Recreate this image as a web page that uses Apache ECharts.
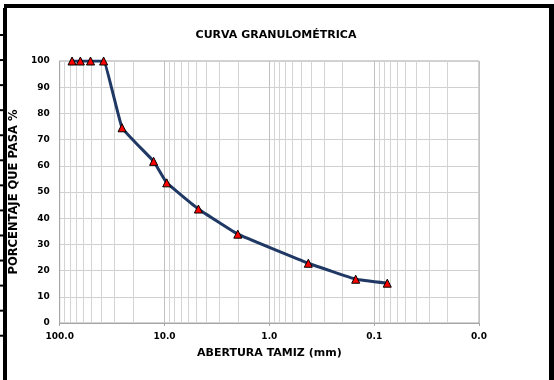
<!DOCTYPE html>
<html>
<head>
<meta charset="utf-8">
<script src="https://cdn.jsdelivr.net/npm/echarts@6/dist/echarts.min.js"></script>
<style>
html,body{margin:0;padding:0;background:#fff;}
#c{width:554px;height:380px;}
</style>
</head>
<body>
<div id="c"></div>
<script>
// Data
var titleText = "CURVA GRANULOMÉTRICA";
var xAxisName = "ABERTURA TAMIZ (mm)";
var yAxisName = "PORCENTAJE QUE PASA %";
var sieveSizes = [76.2, 63.5, 50.8, 38.1, 25.4, 12.7, 9.525, 4.75, 2.0, 0.425, 0.15, 0.075];
var passing = [100, 100, 100, 100, 74.5, 61.7, 53.5, 43.5, 33.9, 22.8, 16.7, 15.2];
var minorDecades = [0.01, 0.1, 1, 10];
var minorMultipliers = [2, 3, 4, 5, 6, 7, 8, 9];

var FONT = "DejaVu Sans";
var chart = echarts.init(document.getElementById('c'), null, {renderer: 'canvas'});

var minorLines = [];
minorDecades.forEach(function (d) {
  minorMultipliers.forEach(function (m) {
    minorLines.push({xAxis: +(d * m).toPrecision(6)});
  });
});

var gridL = 59, gridR = 75, gridT = 61, gridB = 57;

// frame decorations
var frame = [
  {type: 'rect', shape: {x: 4, y: 4, width: 550, height: 4}, style: {fill: '#000'}},
  {type: 'rect', shape: {x: 549, y: 4, width: 5, height: 376}, style: {fill: '#000'}},
  {type: 'rect', shape: {x: 3, y: 8, width: 4, height: 372}, style: {fill: '#000'}}
];
for (var k = 0; k < 13; k++) {
  frame.push({type: 'rect', shape: {x: 0, y: 34 + 25.06 * k, width: 4, height: 2}, style: {fill: '#000'}});
}

var data = sieveSizes.map(function (s, i) { return [s, passing[i]]; });

chart.setOption({
  animation: false,
  backgroundColor: '#fff',
  title: {
    text: titleText, left: 271, top: 25, textAlign: 'center',
    textStyle: {fontFamily: FONT, fontWeight: 'bold', fontSize: 11, color: '#000'}
  },
  grid: {left: gridL, right: gridR, top: gridT, bottom: gridB, show: true, borderColor: '#a6a6a6', borderWidth: 1, backgroundColor: 'transparent'},
  xAxis: {
    type: 'log', logBase: 10, min: 0.01, max: 100, inverse: true,
    name: xAxisName, nameLocation: 'middle', nameGap: 25,
    nameTextStyle: {fontFamily: FONT, fontWeight: 'bold', fontSize: 11, color: '#000'},
    axisLine: {lineStyle: {color: '#a6a6a6'}},
    axisTick: {show: true, length: 3, lineStyle: {color: '#a6a6a6'}},
    axisLabel: {fontFamily: FONT, fontWeight: 'bold', fontSize: 9, color: '#000', margin: 9,
      formatter: function (v) { return (+v).toFixed(1); }},
    splitLine: {show: true, lineStyle: {color: '#c0c0c0', width: 1}}
  },
  yAxis: {
    type: 'value', min: 0, max: 100, interval: 10,
    name: yAxisName, nameLocation: 'middle', nameGap: 33, nameRotate: 90,
    nameTextStyle: {fontFamily: FONT, fontWeight: 'bold', fontSize: 11.5, color: '#000'},
    axisLine: {show: true, lineStyle: {color: '#a6a6a6'}},
    axisTick: {show: false},
    axisLabel: {fontFamily: FONT, fontWeight: 'bold', fontSize: 9, color: '#000', margin: 10},
    splitLine: {show: true, lineStyle: {color: '#d0d0d0', width: 1}}
  },
  graphic: frame,
  series: [
    {
      type: 'line', data: [], silent: true,
      markLine: {silent: true, symbol: 'none', label: {show: false},
        lineStyle: {color: '#d4d4d4', width: 1, type: 'solid'}, data: minorLines, animation: false}
    },
    {
      type: 'line', data: data, smooth: 0.08,
      lineStyle: {color: '#1f3864', width: 3},
      symbol: 'triangle', symbolSize: 8,
      itemStyle: {color: '#ff0000', borderColor: '#000', borderWidth: 1},
      z: 5
    }
  ]
});
</script>
</body>
</html>
